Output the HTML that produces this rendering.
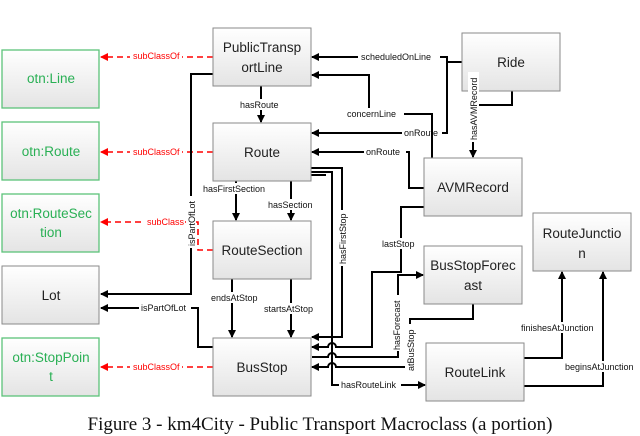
<!DOCTYPE html>
<html><head><meta charset="utf-8"><style>
html,body{margin:0;padding:0;background:#fff;}
svg{display:block;}
.b{fill:url(#g);stroke:#8a8a8a;stroke-width:1;}
.gb{fill:url(#g);stroke:#5cc27a;stroke-width:1.3;}
.t{font-family:"Liberation Sans",sans-serif;font-size:13.5px;fill:#222;text-anchor:middle;}
.gt{font-family:"Liberation Sans",sans-serif;font-size:13.5px;fill:#2ab055;text-anchor:middle;}
.l{font-family:"Liberation Sans",sans-serif;font-size:9px;fill:#111;}
.rl{font-family:"Liberation Sans",sans-serif;font-size:9px;fill:#f00;}
.k{fill:none;stroke:#000;stroke-width:2;}
.r{fill:none;stroke:#f00;stroke-width:1.6;stroke-dasharray:6,4;}
</style></head><body>
<svg width="640" height="436" viewBox="0 0 640 436" xmlns="http://www.w3.org/2000/svg">
<defs>
<linearGradient id="g" x1="0" y1="0" x2="0" y2="1"><stop offset="0" stop-color="#ffffff"/><stop offset="1" stop-color="#e4e4e4"/></linearGradient>
<marker id="a" markerWidth="8" markerHeight="8" refX="7" refY="4" orient="auto" markerUnits="userSpaceOnUse"><path d="M0,0 L8,4 L0,8 z" fill="#000"/></marker>
<marker id="ar" markerWidth="8" markerHeight="8" refX="7" refY="4" orient="auto" markerUnits="userSpaceOnUse"><path d="M0,0 L8,4 L0,8 z" fill="#f00"/></marker>
</defs>

<path class="r" d="M213,57 H101" marker-end="url(#ar)"/>
<path class="r" d="M213,152 H101" marker-end="url(#ar)"/>
<path class="r" d="M213,250 H198 V222 H101" marker-end="url(#ar)"/>
<path class="r" d="M213,367 H101" marker-end="url(#ar)"/>
<rect x="130" y="50" width="52" height="12" fill="#fff"/><text class="rl" x="133" y="59">subClassOf</text>
<rect x="130" y="145" width="52" height="12" fill="#fff"/><text class="rl" x="133" y="155">subClassOf</text>
<rect x="145" y="216" width="40" height="12" fill="#fff"/><text class="rl" x="147" y="225">subClass</text>
<rect x="130" y="361" width="52" height="12" fill="#fff"/><text class="rl" x="133" y="370">subClassOf</text>

<path class="k" d="M213,74 H191 V294 H101" stroke-width="1.5" marker-end="url(#a)"/>
<rect x="186" y="196" width="10" height="52" fill="#fff"/><text class="l" transform="translate(195,246) rotate(-90)">isPartOfLot</text>
<path class="k" d="M213,347 H198 V308 H101" stroke-width="1.5" marker-end="url(#a)"/>
<rect x="139" y="302" width="52" height="11" fill="#fff"/><text class="l" x="141" y="311">isPartOfLot</text>

<path class="k" d="M261,86 V122" stroke-width="1.5" marker-end="url(#a)"/>
<rect x="238" y="99" width="46" height="11" fill="#fff"/><text class="l" x="240" y="108">hasRoute</text>
<path class="k" d="M236,181 V220" marker-end="url(#a)"/>
<rect x="202" y="183" width="68" height="11" fill="#fff"/><text class="l" x="203" y="192">hasFirstSection</text>
<path class="k" d="M291,181 V220" marker-end="url(#a)"/>
<rect x="267" y="199" width="50" height="11" fill="#fff"/><text class="l" x="268" y="208">hasSection</text>
<path class="k" d="M232,279 V337" marker-end="url(#a)"/>
<rect x="210" y="292" width="54" height="11" fill="#fff"/><text class="l" x="211" y="301">endsAtStop</text>
<path class="k" d="M291,279 V337" marker-end="url(#a)"/>
<rect x="263" y="303" width="56" height="11" fill="#fff"/><text class="l" x="264" y="312">startsAtStop</text>

<path class="k" d="M462,62 H447 V57 H312" marker-end="url(#a)"/>
<path class="k" d="M447,57 V133 H312" marker-end="url(#a)"/>
<rect x="358" y="51" width="82" height="11" fill="#fff"/><text class="l" x="361" y="60">scheduledOnLine</text>
<rect x="402" y="127" width="40" height="11" fill="#fff"/><text class="l" x="404" y="136">onRoute</text>
<path class="k" d="M432,158 V114 H369 V75 H312" marker-end="url(#a)"/>
<rect x="346" y="108" width="58" height="11" fill="#fff"/><text class="l" x="347" y="117">concernLine</text>
<path class="k" d="M424,188 H409 V152 H312" marker-end="url(#a)"/>
<rect x="364" y="146" width="42" height="11" fill="#fff"/><text class="l" x="366" y="155">onRoute</text>
<path class="k" d="M512,91 V105 H473 V157" marker-end="url(#a)"/>

<path class="k" d="M311,168 H342 V337 H312" stroke-width="1.5" marker-end="url(#a)"/>
<rect x="337" y="210" width="10" height="56" fill="#fff"/><text class="l" transform="translate(346,264) rotate(-90)">hasFirstStop</text>
<path class="k" d="M311,172 H332 V385 H425" stroke-width="1.5" marker-end="url(#a)"/>
<rect x="339" y="379" width="62" height="11" fill="#fff"/><text class="l" x="341" y="388">hasRouteLink</text>
<path class="k" d="M311,175 H326" stroke-width="1.5"/>
<path class="k" d="M424,207 H401 V272 H372 V347 H336 a4,4 0 0 0 -8,0 H312" stroke-width="1.5" marker-end="url(#a)"/>
<rect x="380" y="238" width="42" height="11" fill="#fff"/><text class="l" x="382" y="247">lastStop</text>
<path class="k" d="M312,357 H328 a4,4 0 0 1 8,0 H398 V275 H423" stroke-width="1.5" marker-end="url(#a)"/>
<rect x="391" y="295" width="10" height="56" fill="#fff"/><text class="l" transform="translate(400,350) rotate(-90)">hasForecast</text>
<path class="k" d="M473,304 V319 H410 V367 H336 a4,4 0 0 0 -8,0 H312" stroke-width="1.5" marker-end="url(#a)"/>
<rect x="405" y="324" width="10" height="48" fill="#fff"/><text class="l" transform="translate(414,371) rotate(-90)">atBusStop</text>
<path class="k" d="M524,358 H562 V272" stroke-width="1.5" marker-end="url(#a)"/>
<rect x="519" y="322" width="88" height="11" fill="#fff"/><text class="l" x="521" y="331">finishesAtJunction</text>
<path class="k" d="M524,386 H603 V272" stroke-width="1.5" marker-end="url(#a)"/>
<rect x="563" y="361" width="77" height="11" fill="#fff"/><text class="l" x="565" y="370">beginsAtJunction</text>

<rect class="gb" x="2" y="50" width="97" height="58"/><text class="gt" x="51" y="83">otn:Line</text>
<rect class="gb" x="2" y="122" width="97" height="58"/><text class="gt" x="51" y="156">otn:Route</text>
<rect class="gb" x="2" y="194" width="97" height="58"/><text class="gt" x="51" y="218">otn:RouteSec</text><text class="gt" x="51" y="237">tion</text>
<rect class="b" x="2" y="266" width="97" height="58"/><text class="t" x="51" y="300">Lot</text>
<rect class="gb" x="2" y="338" width="97" height="58"/><text class="gt" x="51" y="362">otn:StopPoin</text><text class="gt" x="51" y="381">t</text>

<rect class="b" x="213" y="28" width="98" height="58"/><text class="t" x="262" y="52">PublicTransp</text><text class="t" x="262" y="72">ortLine</text>
<rect class="b" x="213" y="123" width="98" height="58"/><text class="t" x="262" y="157">Route</text>
<rect class="b" x="213" y="221" width="98" height="58"/><text class="t" x="262" y="255">RouteSection</text>
<rect class="b" x="213" y="338" width="98" height="58"/><text class="t" x="262" y="372">BusStop</text>
<rect class="b" x="462" y="33" width="98" height="58"/><text class="t" x="511" y="67">Ride</text>
<rect class="b" x="424" y="158" width="98" height="58"/><text class="t" x="473" y="192">AVMRecord</text>
<rect class="b" x="533" y="213" width="98" height="58"/><text class="t" x="582" y="238">RouteJunctio</text><text class="t" x="582" y="258">n</text>
<rect class="b" x="424" y="246" width="98" height="58"/><text class="t" x="473" y="270">BusStopForec</text><text class="t" x="473" y="290">ast</text>
<rect class="b" x="426" y="343" width="98" height="58"/><text class="t" x="475" y="377">RouteLink</text>

<rect x="468" y="72" width="11" height="70" fill="#fff"/><text class="l" transform="translate(477,140) rotate(-90)">hasAVMRecord</text>

<text x="320" y="430" text-anchor="middle" style="font-family:'Liberation Serif',serif;font-size:19px;fill:#111">Figure 3 - km4City - Public Transport Macroclass (a portion)</text>
</svg>
</body></html>
